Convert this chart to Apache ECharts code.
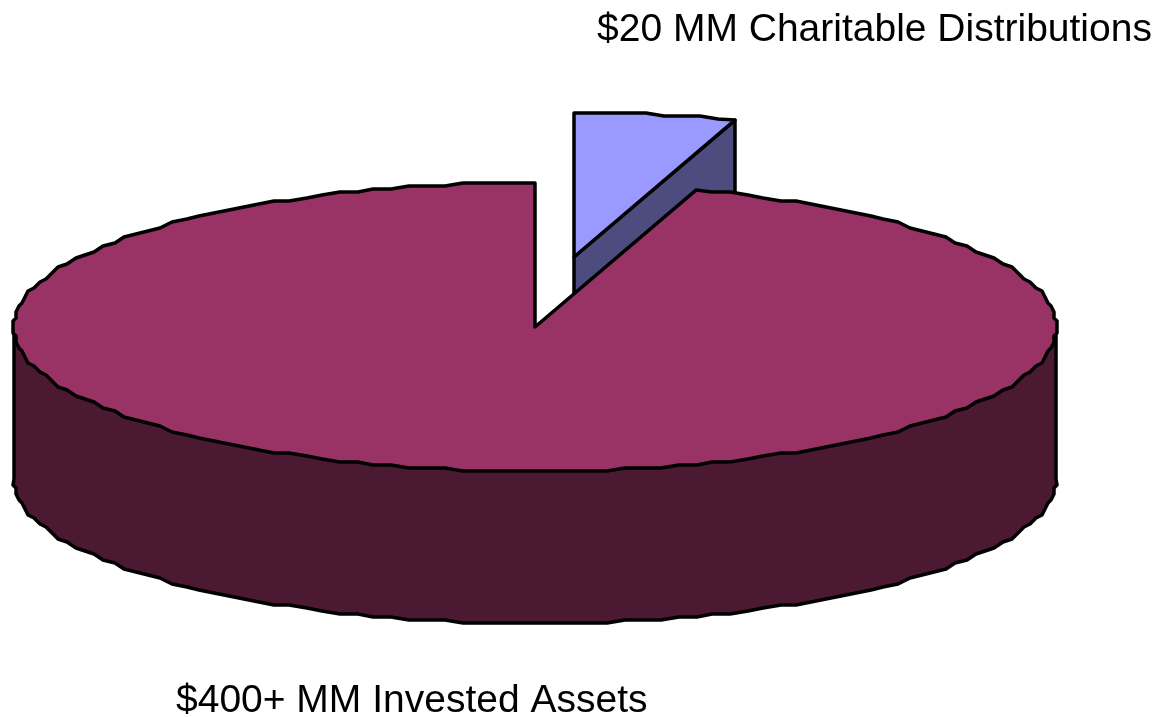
<!DOCTYPE html>
<html><head><meta charset="utf-8">
<style>html,body{margin:0;padding:0;background:#fff}#c{width:1164px;height:717px}</style>
<script src="https://cdn.jsdelivr.net/npm/echarts@6/dist/echarts.min.js"></script>
</head><body><div id="c"></div>
<script>
// Data: slice shares (small slice spans 18 degrees = 5%)
const categories = ['$20 MM Charitable Distributions', '$400+ MM Invested Assets'];
const sliceValues = [20, 380];
const topColors = ['#9999FF', '#993366'];
const sideColors = ['#4C4C7F', '#4C1933'];

// Pie layout
const CX = 535, CY = 327, RX = 521, RY = 144, DEPTH = 152;
const EXPLODE = [[39, -70], [0, 0]];
const LABEL_POS = [[597, 50], [176, 721]];
const FONT_SIZE = 39, SNAP = 3, STEP = Math.PI / 90;

const total = sliceValues.reduce((a, b) => a + b, 0);
const snap = v => Math.round(v / SNAP) * SNAP;
const exact = (cx, cy, t) => [cx + RX * Math.sin(t), cy - RY * Math.cos(t)];
// coarse polyline round the ellipse, the exact end points being kept
function arc(cx, cy, a0, a1) {
  const dir = a1 > a0 ? 1 : -1;
  const out = [exact(cx, cy, a0)];
  let k = dir > 0 ? Math.floor(a0 / STEP + 1e-6) + 1 : Math.ceil(a0 / STEP - 1e-6) - 1;
  while (dir > 0 ? k * STEP < a1 - 1e-6 : k * STEP > a1 + 1e-6) {
    const p = exact(cx, cy, k * STEP);
    out.push([snap(p[0] - cx) + cx, snap(p[1] - cy) + cy]);
    k += dir;
  }
  out.push(exact(cx, cy, a1));
  return out;
}
const stroke = { stroke: '#000', lineWidth: 3.5, lineJoin: 'round' };

function renderItem(params, api) {
  const i = params.dataIndex;
  const v = api.value(0);
  let before = 0;
  for (let k = 0; k < i; k++) before += sliceValues[k];
  const a0 = before / total * 2 * Math.PI, a1 = (before + v) / total * 2 * Math.PI;
  const cx = CX + EXPLODE[i][0], cy = CY + EXPLODE[i][1];
  const children = [];
  const apex = [cx, cy];
  if (i === 0) {
    const e = exact(cx, cy, a1);
    children.push({ type: 'polygon', shape: { points: [apex, e, [e[0], e[1] + DEPTH], [apex[0], apex[1] + DEPTH]] },
      style: Object.assign({ fill: sideColors[i] }, stroke) });
  } else {
    // curved outer wall: closed straight across under the top face
    const lower = arc(cx, cy + DEPTH, 3 * Math.PI / 2, Math.PI / 2);
    const pts = [[cx - RX, cy]].concat(lower, [[cx + RX, cy]]);
    children.push({ type: 'polygon', shape: { points: pts },
      style: Object.assign({ fill: sideColors[i] }, stroke) });
  }
  children.push({ type: 'polygon', shape: { points: [apex].concat(arc(cx, cy, a0, a1)) },
    style: Object.assign({ fill: topColors[i] }, stroke) });
  children.push({ type: 'text', style: { text: categories[i], x: LABEL_POS[i][0], y: LABEL_POS[i][1],
    verticalAlign: 'bottom', align: 'left', fill: '#000', fontFamily: 'Liberation Sans', fontSize: FONT_SIZE } });
  return { type: 'group', children };
}

const chart = echarts.init(document.getElementById('c'), null, { renderer: 'canvas' });
chart.setOption({
  animation: false,
  backgroundColor: '#fff',
  series: [{ type: 'custom', coordinateSystem: 'none', clip: false, renderItem,
    data: sliceValues.map((v, i) => ({ name: categories[i], value: [v] })) }]
});
</script></body></html>
